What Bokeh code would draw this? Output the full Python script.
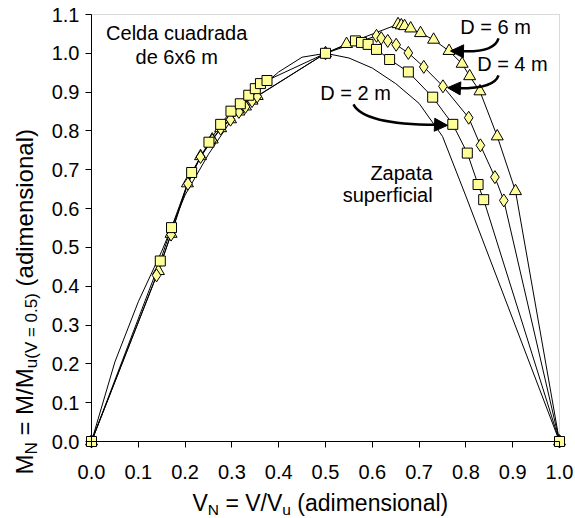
import numpy as np
from bokeh.plotting import figure
from bokeh.models import (Range1d, FixedTicker, PrintfTickFormatter, Label, Arrow, NormalHead,
                          BoxAnnotation)
from bokeh.embed import file_html
from bokeh.resources import INLINE

# ---------------- data ----------------
x_ticks = [0.0, 0.1, 0.2, 0.3, 0.4, 0.5, 0.6, 0.7, 0.8, 0.9, 1.0]
y_ticks = [0.0, 0.1, 0.2, 0.3, 0.4, 0.5, 0.6, 0.7, 0.8, 0.9, 1.0, 1.1]

zap_x = [0.0, 0.05, 0.1, 0.15, 0.2, 0.25, 0.3, 0.35, 0.4, 0.45, 0.5, 0.55, 0.6, 0.65, 0.7, 0.75, 0.8, 1.0]
zap_y = [0.0, 0.205, 0.36, 0.49, 0.635, 0.74, 0.83, 0.9, 0.952, 0.99, 1.0, 0.988, 0.962, 0.922, 0.871, 0.786, 0.632, 0.0]

d2_x = [0.0, 0.147, 0.171, 0.214, 0.251, 0.276, 0.298, 0.318, 0.336, 0.350, 0.361, 0.375, 0.5,
        0.564, 0.577, 0.591, 0.609, 0.637, 0.677, 0.729, 0.772, 0.803, 0.826, 0.838, 1.0]
d2_y = [0.0, 0.465, 0.551, 0.693, 0.771, 0.817, 0.851, 0.870, 0.892, 0.909, 0.922, 0.930, 1.0,
        1.032, 1.028, 1.023, 1.010, 0.984, 0.952, 0.887, 0.817, 0.743, 0.662, 0.623, 0.0]

d4_x = [0.0, 0.139, 0.170, 0.206, 0.233, 0.258, 0.276, 0.297, 0.315, 0.329, 0.343, 0.354, 0.5,
        0.609, 0.619, 0.633, 0.651, 0.677, 0.710, 0.751, 0.806, 0.831, 0.862, 0.881, 1.0]
d4_y = [0.0, 0.428, 0.533, 0.664, 0.733, 0.776, 0.806, 0.829, 0.849, 0.862, 0.877, 0.889, 1.0,
        1.045, 1.039, 1.032, 1.022, 1.001, 0.965, 0.915, 0.834, 0.763, 0.681, 0.621, 0.0]

d6_x = [0.0, 0.143, 0.170, 0.205, 0.233, 0.258, 0.276, 0.297, 0.315, 0.329, 0.343, 0.354, 0.5, 0.545,
        0.655, 0.662, 0.669, 0.682, 0.703, 0.731, 0.764, 0.792, 0.808, 0.830, 0.867, 0.906, 1.0]
d6_y = [0.0, 0.439, 0.535, 0.665, 0.735, 0.778, 0.807, 0.830, 0.850, 0.863, 0.878, 0.890, 1.0, 1.024,
        1.075, 1.072, 1.070, 1.064, 1.052, 1.035, 1.006, 0.973, 0.941, 0.902, 0.786, 0.645, 0.0]

FONT = "Liberation Sans"
FILL = "#FFFF99"

W_CANVAS, H_CANVAS = 575, 518
# plot-area placement on the canvas (pixels)
PX_L, PX_R, PX_T, PX_B = 91, 559, 14, 441
XMIN, XMAX, YMIN, YMAX = 0.0, 1.0, 0.0, 1.1
sx = (PX_R - PX_L) / (XMAX - XMIN)
sy = (PX_B - PX_T) / (YMAX - YMIN)
x_range = Range1d(XMIN - PX_L / sx, XMAX + (W_CANVAS - PX_R) / sx)
y_range = Range1d(YMIN - (H_CANVAS - PX_B) / sy, YMAX + PX_T / sy)

p = figure(width=W_CANVAS, height=H_CANVAS, output_backend="svg", toolbar_location=None, title=None,
           x_range=x_range, y_range=y_range,
           min_border_left=0, min_border_right=0, min_border_top=0, min_border_bottom=0)
p.grid.visible = False
p.outline_line_color = None
p.background_fill_color = "white"
p.border_fill_color = "white"

# plot-area border (grey), under the data
p.add_layout(BoxAnnotation(left=XMIN, right=XMAX, bottom=YMIN, top=YMAX, fill_alpha=0,
                           line_color="#808080", line_width=1, level="underlay"))

p.xaxis.ticker = FixedTicker(ticks=x_ticks)
p.yaxis.ticker = FixedTicker(ticks=y_ticks)
p.xaxis.formatter = PrintfTickFormatter(format="%.1f")
p.yaxis.formatter = PrintfTickFormatter(format="%.1f")
p.xaxis.fixed_location = YMIN
p.yaxis.fixed_location = XMIN
p.xaxis.bounds = (XMIN, XMAX)
p.yaxis.bounds = (YMIN, YMAX)
for ax in (p.xaxis[0], p.yaxis[0]):
    ax.axis_line_color = "black"
    ax.major_tick_line_color = "black"
    ax.minor_tick_line_color = None
    ax.major_tick_out = 6
    ax.major_tick_in = 0
    ax.major_label_text_font = FONT
    ax.major_label_text_font_size = "20px"
    ax.major_label_text_color = "black"
p.xaxis.major_label_standoff = 17
p.yaxis.major_label_standoff = 6

# lines
for xs, ys in ((zap_x, zap_y), (d6_x, d6_y), (d4_x, d4_y), (d2_x, d2_y)):
    p.line(xs, ys, line_color="black", line_width=1)

p.scatter(d6_x, d6_y, marker="triangle", size=12, fill_color=FILL, line_color="black", line_width=1)
p.scatter(d4_x, d4_y, marker="diamond", size=13, fill_color=FILL, line_color="black", line_width=1)
p.scatter(d2_x, d2_y, marker="square", size=10, fill_color=FILL, line_color="black", line_width=1)

# arrows (curved)
arrows = [
    # start, control, base, tip
    ((0.8697, 1.0387), (0.8611, 1.0026), (0.7927, 1.0052), (0.7671, 1.0059)),
    ((0.8697, 0.9433), (0.8611, 0.9098), (0.7863, 0.9098), (0.7607, 0.9116)),
    ((0.5598, 0.8686), (0.5812, 0.8170), (0.7372, 0.8157), (0.7607, 0.8144)),
]
for (s, c, b, t) in arrows:
    p.quadratic(x0=[s[0]], y0=[s[1]], cx=[c[0]], cy=[c[1]], x1=[b[0]], y1=[b[1]],
                line_color="black", line_width=2.5)
    p.add_layout(Arrow(end=NormalHead(size=13, fill_color="black", line_color="black", line_width=1),
                       x_start=b[0], y_start=b[1], x_end=t[0], y_end=t[1],
                       line_color="black", line_width=2.5))

def lab(x, y, text, align="left"):
    p.add_layout(Label(x=x, y=y, text=text, text_align=align, text_baseline="middle",
                       text_font=FONT, text_font_size="20px", text_color="black"))

lab(0.182, 1.052, "Celda cuadrada", "center")
lab(0.182, 0.990, "de 6x6 m", "center")
lab(0.788, 1.067, "D = 6 m")
lab(0.824, 0.973, "D = 4 m")
lab(0.489, 0.897, "D = 2 m")
lab(0.729, 0.691, "Zapata", "right")
lab(0.729, 0.634, "superficial", "right")

# axis titles built from pieces (with subscripts); screen units on the canvas-wide frame
W = {' ': 278, '(': 333, ')': 333, '/': 278, '=': 584, '.': 278, '0': 556, '5': 556, 'V': 667,
     'N': 722, 'M': 833, 'u': 556, 'a': 556, 'd': 556, 'i': 222, 'm': 833, 'e': 556, 'n': 556,
     's': 500, 'o': 556, 'l': 222}
def tw(s, size):
    return sum(W[ch] for ch in s) / 1000.0 * size

MID = 0.33  # em distance from baseline to the "middle" anchor

def pieces(parts):
    """(offset_along_text, text, size, drop); leading spaces become advances"""
    pos = 0.0
    out = []
    for txt, sz, drop in parts:
        lead = len(txt) - len(txt.lstrip(" "))
        pos += tw(" " * lead, sz)
        body = txt.lstrip(" ")
        out.append((pos, body, sz, drop))
        pos += tw(body, sz)
    return out

# x title: baseline at canvas y=510, starting at x=192
XM, XS = 23, 15.5
xt = [("V", XM, 0), ("N", XS, 4), (" = V/V", XM, 0), ("u", XS, 4), (" (adimensional)", XM, 0)]
for off, txt, sz, drop in pieces(xt):
    cy = 510 + drop - MID * sz
    p.add_layout(Label(x=192 + off, y=H_CANVAS - cy, x_units="screen", y_units="screen", text=txt,
                       text_align="left", text_baseline="middle", text_font=FONT,
                       text_font_size=f"{sz}px", text_color="black"))

# y title: rotated, baseline at canvas x=32, starting at canvas y=474 going up
YM, YS = 24, 17
yt = [("M", YM, 0), ("N", YS, 5), (" = M/M", YM, 0), ("u(V = 0.5)", YS, 5), (" (adimensional)", YM, 0)]
for off, txt, sz, drop in pieces(yt):
    cx = 32 + drop - MID * sz
    p.add_layout(Label(x=cx, y=H_CANVAS - (474 - off), x_units="screen", y_units="screen", text=txt,
                       angle=np.pi / 2, text_align="left", text_baseline="middle", text_font=FONT,
                       text_font_size=f"{sz}px", text_color="black"))

open("out.html", "w").write(file_html(p, INLINE))
